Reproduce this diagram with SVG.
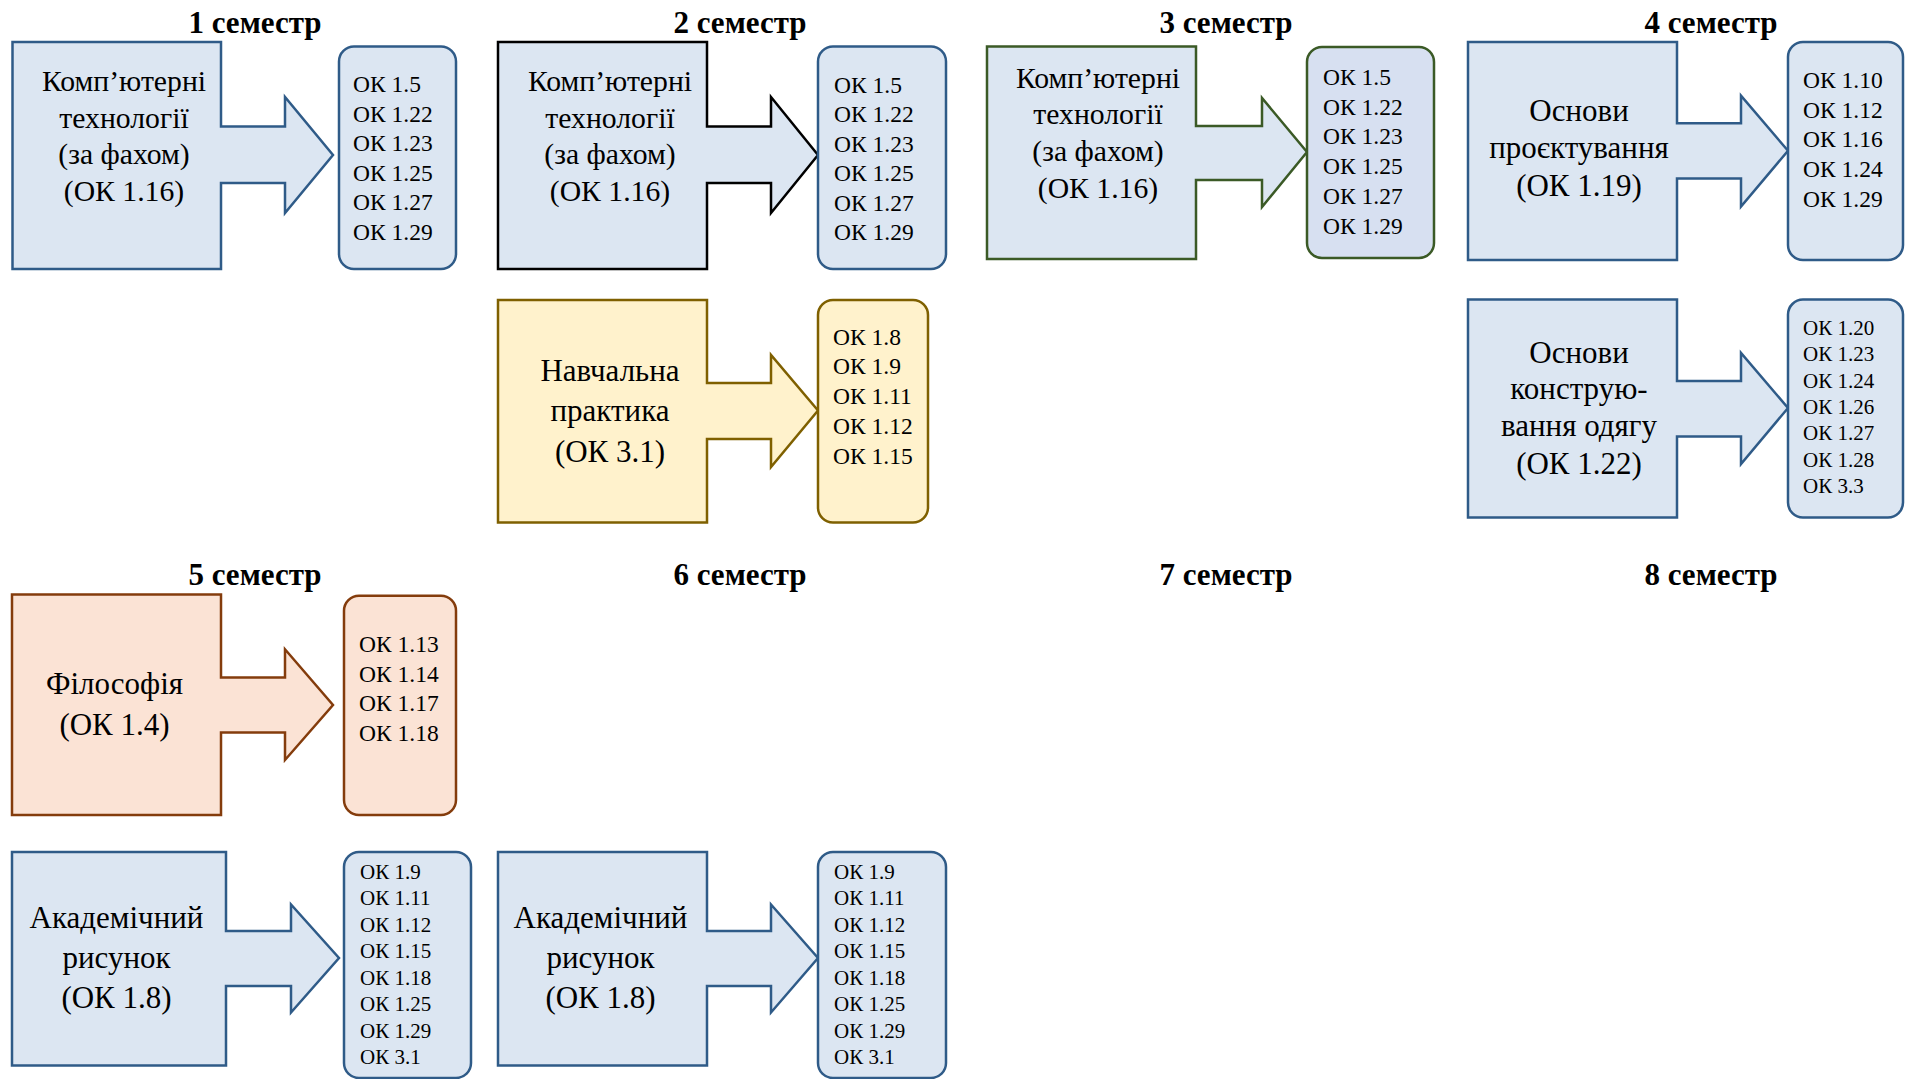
<svg xmlns="http://www.w3.org/2000/svg" width="1905" height="1079" viewBox="0 0 1905 1079">
<style>
.t{font-family:"Liberation Serif","Times New Roman",serif;font-weight:bold;font-size:31px;text-anchor:middle;fill:#000}
.m{font-family:"Liberation Serif","Times New Roman",serif;font-size:29.7px;text-anchor:middle;fill:#000}
.m2{font-family:"Liberation Serif","Times New Roman",serif;font-size:31px;text-anchor:middle;fill:#000}
.l{font-family:"Liberation Serif","Times New Roman",serif;font-size:23.5px;fill:#000}
.ls{font-family:"Liberation Serif","Times New Roman",serif;font-size:21px;fill:#000}
.blue{fill:#DCE6F2;stroke:#2F5B88;stroke-width:2.5}
.black{fill:#DCE6F2;stroke:#000;stroke-width:2.5}
.green{fill:#DCE6F2;stroke:#3B5A26;stroke-width:2.5}
.greenbox{fill:#D7E0F1;stroke:#3B5A26;stroke-width:2.5}
.yellow{fill:#FFF2CC;stroke:#7F6000;stroke-width:2.5}
.peach{fill:#FBE3D5;stroke:#843C0C;stroke-width:2.5}
</style>
<g id="titles">
<text class="t" x="255" y="33">1 семестр</text>
<text class="t" x="740" y="33">2 семестр</text>
<text class="t" x="1226" y="33">3 семестр</text>
<text class="t" x="1711" y="33">4 семестр</text>
<text class="t" x="255" y="585">5 семестр</text>
<text class="t" x="740" y="585">6 семестр</text>
<text class="t" x="1226" y="585">7 семестр</text>
<text class="t" x="1711" y="585">8 семестр</text>
</g>
<g id="connectors"></g>

<g id="s1-kt">
<polygon class="blue" points="12.5,42 221,42 221,126.5 285,126.5 285,97 333,155 285,213 285,183 221,183 221,269 12.5,269"/>
<text class="m" x="124" y="91">Комп’ютерні</text>
<text class="m" x="124" y="127.5">технології</text>
<text class="m" x="124" y="164">(за фахом)</text>
<text class="m" x="124" y="201">(ОК 1.16)</text>
</g>
<g id="s1-kt-ok">
<rect class="blue" x="339" y="46.5" width="117" height="222.5" rx="15"/>
<text class="l" x="353" y="92">ОК 1.5</text>
<text class="l" x="353" y="121.5">ОК 1.22</text>
<text class="l" x="353" y="151">ОК 1.23</text>
<text class="l" x="353" y="180.5">ОК 1.25</text>
<text class="l" x="353" y="210">ОК 1.27</text>
<text class="l" x="353" y="239.5">ОК 1.29</text>
</g>

<g id="s2-kt">
<polygon class="black" points="498,42 707,42 707,126.5 771,126.5 771,97 818,155 771,213 771,183 707,183 707,269 498,269"/>
<text class="m" x="610" y="91">Комп’ютерні</text>
<text class="m" x="610" y="127.5">технології</text>
<text class="m" x="610" y="164">(за фахом)</text>
<text class="m" x="610" y="201">(ОК 1.16)</text>
</g>
<g id="s2-kt-ok">
<rect class="blue" x="818" y="46.5" width="128" height="222.5" rx="15"/>
<text class="l" x="834" y="92.5">ОК 1.5</text>
<text class="l" x="834" y="122">ОК 1.22</text>
<text class="l" x="834" y="151.5">ОК 1.23</text>
<text class="l" x="834" y="181">ОК 1.25</text>
<text class="l" x="834" y="210.5">ОК 1.27</text>
<text class="l" x="834" y="240">ОК 1.29</text>
</g>

<g id="s2-np">
<polygon class="yellow" points="498,300 707,300 707,383 771,383 771,355 818,410.5 771,467 771,439 707,439 707,522.5 498,522.5"/>
<text class="m2" x="610" y="381">Навчальна</text>
<text class="m2" x="610" y="421">практика</text>
<text class="m2" x="610" y="461.5">(ОК 3.1)</text>
</g>
<g id="s2-np-ok">
<rect class="yellow" x="818" y="300" width="110" height="222.5" rx="15"/>
<text class="l" x="833" y="344.5">ОК 1.8</text>
<text class="l" x="833" y="374.3">ОК 1.9</text>
<text class="l" x="833" y="404.1">ОК 1.11</text>
<text class="l" x="833" y="433.9">ОК 1.12</text>
<text class="l" x="833" y="463.7">ОК 1.15</text>
</g>

<g id="s3-kt">
<polygon class="green" points="987,46.5 1196,46.5 1196,126 1262,126 1262,98 1307,152 1262,207 1262,180 1196,180 1196,259 987,259"/>
<text class="m" x="1098" y="87.5">Комп’ютерні</text>
<text class="m" x="1098" y="124">технології</text>
<text class="m" x="1098" y="161">(за фахом)</text>
<text class="m" x="1098" y="198">(ОК 1.16)</text>
</g>
<g id="s3-kt-ok">
<rect class="greenbox" x="1307" y="47" width="127" height="211" rx="15"/>
<text class="l" x="1323" y="85">ОК 1.5</text>
<text class="l" x="1323" y="114.7">ОК 1.22</text>
<text class="l" x="1323" y="144.4">ОК 1.23</text>
<text class="l" x="1323" y="174.1">ОК 1.25</text>
<text class="l" x="1323" y="203.8">ОК 1.27</text>
<text class="l" x="1323" y="233.5">ОК 1.29</text>
</g>

<g id="s4-op">
<polygon class="blue" points="1468,42 1677,42 1677,123.3 1741,123.3 1741,95.7 1788,150.8 1741,206.6 1741,178.4 1677,178.4 1677,260 1468,260"/>
<text class="m2" x="1579" y="120.5">Основи</text>
<text class="m2" x="1579" y="157.7">проєктування</text>
<text class="m2" x="1579" y="196">(ОК 1.19)</text>
</g>
<g id="s4-op-ok">
<rect class="blue" x="1788" y="42" width="115" height="218" rx="15"/>
<text class="l" x="1803" y="87.8">ОК 1.10</text>
<text class="l" x="1803" y="117.5">ОК 1.12</text>
<text class="l" x="1803" y="147.2">ОК 1.16</text>
<text class="l" x="1803" y="176.9">ОК 1.24</text>
<text class="l" x="1803" y="206.6">ОК 1.29</text>
</g>

<g id="s4-ko">
<polygon class="blue" points="1468,299.6 1677,299.6 1677,381 1741,381 1741,353 1788,408 1741,464 1741,436.6 1677,436.6 1677,517.6 1468,517.6"/>
<text class="m2" x="1579" y="362.5">Основи</text>
<text class="m2" x="1579" y="399">конструю-</text>
<text class="m2" x="1579" y="435.5">вання одягу</text>
<text class="m2" x="1579" y="473.5">(ОК 1.22)</text>
</g>
<g id="s4-ko-ok">
<rect class="blue" x="1788" y="299.6" width="115" height="218" rx="15"/>
<text class="ls" x="1803" y="334.7">ОК 1.20</text>
<text class="ls" x="1803" y="361.1">ОК 1.23</text>
<text class="ls" x="1803" y="387.5">ОК 1.24</text>
<text class="ls" x="1803" y="413.9">ОК 1.26</text>
<text class="ls" x="1803" y="440.3">ОК 1.27</text>
<text class="ls" x="1803" y="466.7">ОК 1.28</text>
<text class="ls" x="1803" y="493.1">ОК 3.3</text>
</g>

<g id="s5-ph">
<polygon class="peach" points="12,594.5 221,594.5 221,677.5 285,677.5 285,649.3 333,705 285,760 285,732.5 221,732.5 221,815 12,815"/>
<text class="m2" x="114.5" y="694">Філософія</text>
<text class="m2" x="114.5" y="735">(ОК 1.4)</text>
</g>
<g id="s5-ph-ok">
<rect class="peach" x="344" y="595.7" width="112" height="219.3" rx="15"/>
<text class="l" x="359" y="651.7">ОК 1.13</text>
<text class="l" x="359" y="681.5">ОК 1.14</text>
<text class="l" x="359" y="711.3">ОК 1.17</text>
<text class="l" x="359" y="741.1">ОК 1.18</text>
</g>

<g id="s5-ar">
<polygon class="blue" points="12,852 226,852 226,931 291,931 291,904.5 339,958 291,1012.5 291,986 226,986 226,1065.5 12,1065.5"/>
<text class="m2" x="116.5" y="928">Академічний</text>
<text class="m2" x="116.5" y="968">рисунок</text>
<text class="m2" x="116.5" y="1008">(ОК 1.8)</text>
</g>
<g id="s5-ar-ok">
<rect class="blue" x="344" y="852" width="127" height="226" rx="15"/>
<text class="ls" x="360" y="878.6">ОК 1.9</text>
<text class="ls" x="360" y="905.1">ОК 1.11</text>
<text class="ls" x="360" y="931.6">ОК 1.12</text>
<text class="ls" x="360" y="958.1">ОК 1.15</text>
<text class="ls" x="360" y="984.6">ОК 1.18</text>
<text class="ls" x="360" y="1011.1">ОК 1.25</text>
<text class="ls" x="360" y="1037.6">ОК 1.29</text>
<text class="ls" x="360" y="1064.1">ОК 3.1</text>
</g>

<g id="s6-ar">
<polygon class="blue" points="498,852 707,852 707,931 771,931 771,904.5 818,958 771,1012.5 771,986 707,986 707,1065.5 498,1065.5"/>
<text class="m2" x="600.5" y="928">Академічний</text>
<text class="m2" x="600.5" y="968">рисунок</text>
<text class="m2" x="600.5" y="1008">(ОК 1.8)</text>
</g>
<g id="s6-ar-ok">
<rect class="blue" x="818" y="852" width="128" height="226" rx="15"/>
<text class="ls" x="834" y="878.6">ОК 1.9</text>
<text class="ls" x="834" y="905.1">ОК 1.11</text>
<text class="ls" x="834" y="931.6">ОК 1.12</text>
<text class="ls" x="834" y="958.1">ОК 1.15</text>
<text class="ls" x="834" y="984.6">ОК 1.18</text>
<text class="ls" x="834" y="1011.1">ОК 1.25</text>
<text class="ls" x="834" y="1037.6">ОК 1.29</text>
<text class="ls" x="834" y="1064.1">ОК 3.1</text>
</g>
</svg>
